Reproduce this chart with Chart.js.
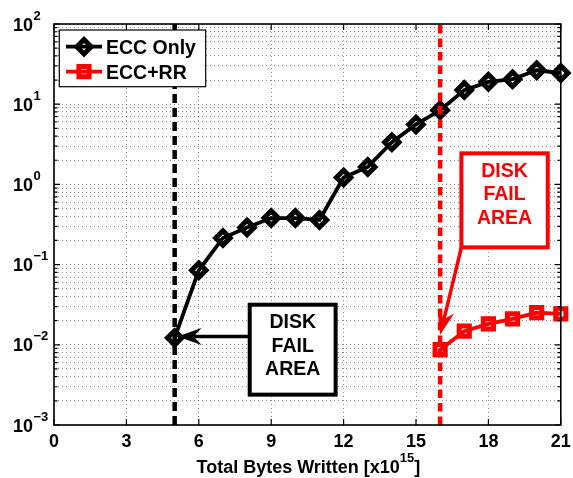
<!DOCTYPE html>
<html><head><meta charset="utf-8">
<script src="https://cdn.jsdelivr.net/npm/chart.js@4/dist/chart.umd.min.js"></script>
<style>html,body{margin:0;padding:0;background:#fff;overflow:hidden}#wrap{width:573px;height:478px;position:relative}</style>
</head><body><div id="wrap"><canvas id="c" width="573" height="478"></canvas></div>
<script>
// ---- data ----
const bytesWritten = [5,6,7,8,9,10,11,12,13,14,15,16,17,18,19,20,21];
const eccOnly      = [0.0122,0.085,0.215,0.29,0.38,0.38,0.36,1.22,1.65,3.35,5.6,8.4,15,19,20.5,26.5,24.5];
const rrBytes      = [16,17,18,19,20,21];
const eccRR        = [0.0087,0.0148,0.0182,0.021,0.0252,0.0243];
const xTickValues  = [0,3,6,9,12,15,18,21];
const yTickExponents = [-3,-2,-1,0,1,2];
const seriesNames  = ['ECC Only','ECC+RR'];
const diskFailLines = [5,16];
const calloutText  = ['DISK','FAIL','AREA'];
const xTitleMain = 'Total Bytes Written [x10';
const xTitleExp = '15';
const xTitleEnd = ']';

const FONT = '"Liberation Sans", Arial, Helvetica, sans-serif';
const yMinorTicks = [];
yTickExponents.forEach((e,i)=>{ for(let m=1;m<=9;m++){ if(i===yTickExponents.length-1 && m>1) break; yMinorTicks.push(+(m*Math.pow(10,e)).toPrecision(6)); }});

const callouts = [
  {color:'#000', box:[8.11,11.67,0.0316,0.00239], from:[8.11,0.0127], to:[5.12,0.0127]},
  {color:'#ff0000', box:[16.88,20.46,2.44,0.164], from:[16.88,0.164], to:[16.0,0.0133]}
];

function arrow(ctx,x0,y0,x1,y1,color,lw){
  const len=24, hw=8.5, notch=16;
  const a=Math.atan2(y1-y0,x1-x0), ux=Math.cos(a), uy=Math.sin(a), px=-uy, py=ux;
  ctx.save();
  ctx.strokeStyle=color; ctx.fillStyle=color; ctx.lineWidth=lw; ctx.lineCap='butt';
  ctx.beginPath(); ctx.moveTo(x0,y0); ctx.lineTo(x1-ux*notch,y1-uy*notch); ctx.stroke();
  ctx.beginPath();
  ctx.moveTo(x1,y1);
  ctx.lineTo(x1-ux*len+px*hw, y1-uy*len+py*hw);
  ctx.lineTo(x1-ux*notch, y1-uy*notch);
  ctx.lineTo(x1-ux*len-px*hw, y1-uy*len-py*hw);
  ctx.closePath(); ctx.fill();
  ctx.restore();
}

const overlay = {
  id:'overlay',
  afterDatasetsDraw(chart){
    const {ctx, scales:{x,y}} = chart;
    callouts.forEach(c=>{
      const l=x.getPixelForValue(c.box[0]), r=x.getPixelForValue(c.box[1]);
      const t=y.getPixelForValue(c.box[2]), b=y.getPixelForValue(c.box[3]);
      arrow(ctx, x.getPixelForValue(c.from[0]), y.getPixelForValue(c.from[1]),
                 x.getPixelForValue(c.to[0]), y.getPixelForValue(c.to[1]), c.color, 3.5);
      ctx.save();
      ctx.fillStyle='#fff'; ctx.fillRect(l,t,r-l,b-t);
      ctx.strokeStyle=c.color; ctx.lineWidth=4; ctx.strokeRect(l,t,r-l,b-t);
      ctx.fillStyle=c.color; ctx.font='bold 19.5px '+FONT; ctx.textAlign='center'; ctx.textBaseline='alphabetic';
      calloutText.forEach((s,i)=>ctx.fillText(s,(l+r)/2,t+23.5+i*23.4));
      ctx.restore();
    });
  },
  afterDraw(chart){
    const {ctx, chartArea:ca, scales:{x,y}} = chart;
    ctx.save();
    // ticks inward
    ctx.strokeStyle='#000'; ctx.lineWidth=1.2;
    xTickValues.forEach(v=>{
      const p=x.getPixelForValue(v);
      ctx.beginPath(); ctx.moveTo(p,ca.bottom); ctx.lineTo(p,ca.bottom-6);
      ctx.moveTo(p,ca.top); ctx.lineTo(p,ca.top+6); ctx.stroke();
    });
    y.ticks.forEach(t=>{
      const p=y.getPixelForValue(t.value);
      const lg=Math.log10(t.value), major=Math.abs(lg-Math.round(lg))<1e-6;
      const L=major?6:3.5;
      ctx.beginPath(); ctx.moveTo(ca.left,p); ctx.lineTo(ca.left+L,p);
      ctx.moveTo(ca.right,p); ctx.lineTo(ca.right-L,p); ctx.stroke();
    });
    // frame
    ctx.lineWidth=1.6; ctx.strokeRect(ca.left,ca.top,ca.right-ca.left,ca.bottom-ca.top);
    // y labels
    ctx.fillStyle='#000'; ctx.textBaseline='alphabetic';
    yTickExponents.forEach(e=>{
      const p=y.getPixelForValue(Math.pow(10,e));
      ctx.font='bold 18px '+FONT; ctx.textAlign='right';
      ctx.fillText('10', 33, p+6.5);
      ctx.font='bold 13px '+FONT; ctx.textAlign='left';
      ctx.fillText(e<0?'\u2212'+Math.abs(e):String(e), 33.5, p-4.5);
    });
    // x labels
    ctx.font='bold 18px '+FONT; ctx.textAlign='center';
    xTickValues.forEach(v=>ctx.fillText(String(v), x.getPixelForValue(v), ca.bottom+21.5));
    // x title
    ctx.textAlign='left';
    ctx.font='bold 18px '+FONT; const w1=ctx.measureText(xTitleMain).width, w3=ctx.measureText(xTitleEnd).width;
    ctx.font='bold 13px '+FONT; const w2=ctx.measureText(xTitleExp).width;
    let sx=(ca.left+ca.right)/2-(w1+w2+w3)/2+1; const by=ca.bottom+48;
    ctx.font='bold 18px '+FONT; ctx.fillText(xTitleMain,sx,by);
    ctx.font='bold 13px '+FONT; ctx.fillText(xTitleExp,sx+w1,by-11.5);
    ctx.font='bold 18px '+FONT; ctx.fillText(xTitleEnd,sx+w1+w2,by);
    // legend
    const lx=ca.left+5.3, ly=ca.top+6, lw=146.4, lh=56.7;
    ctx.fillStyle='#fff'; ctx.fillRect(lx,ly,lw,lh);
    ctx.strokeStyle='#000'; ctx.lineWidth=1.2; ctx.strokeRect(lx,ly,lw,lh);
    [0,1].forEach(i=>{
      const ds=chart.data.datasets[i]; const ry=ly+16.7+i*25;
      ctx.strokeStyle=ds.borderColor; ctx.lineWidth=ds.borderWidth;
      ctx.beginPath(); ctx.moveTo(ca.left+12,ry); ctx.lineTo(ca.left+48,ry); ctx.stroke();
      ctx.save(); ctx.fillStyle=ds.pointBackgroundColor; ctx.strokeStyle=ds.borderColor; ctx.lineWidth=ds.pointBorderWidth;
      Chart.helpers.drawPoint(ctx,{pointStyle:ds.pointStyle,radius:ds.pointRadius,rotation:0,borderWidth:ds.pointBorderWidth},ca.left+30,ry);
      ctx.restore();
      ctx.fillStyle='#000'; ctx.font='bold 19.5px '+FONT; ctx.textAlign='left';
      ctx.fillText(seriesNames[i], ca.left+52, ry+7);
    });
    ctx.restore();
  }
};

new Chart(document.getElementById('c'), {
  type:'line',
  data:{datasets:[
    {label:seriesNames[0], data:bytesWritten.map((v,i)=>({x:v,y:eccOnly[i]})), borderColor:'#000', borderWidth:3.8,
     pointStyle:'rectRot', pointRadius:7.2, pointBorderWidth:5, pointBackgroundColor:'rgba(255,255,255,0)', pointBorderColor:'#000', order:3, clip:false},
    {label:seriesNames[1], data:rrBytes.map((v,i)=>({x:v,y:eccRR[i]})), borderColor:'#ff0000', borderWidth:3.8,
     pointStyle:'rect', pointRadius:7.2, pointBorderWidth:5, pointBackgroundColor:'rgba(255,255,255,0)', pointBorderColor:'#ff0000', order:2, clip:false},
    {label:'fail0', data:[{x:diskFailLines[0],y:1e-3},{x:diskFailLines[0],y:1e2}], borderColor:'#000', borderWidth:4.5, borderDash:[9,5], pointRadius:0, order:4},
    {label:'fail1', data:[{x:diskFailLines[1],y:1e-3},{x:diskFailLines[1],y:1e2}], borderColor:'#ff0000', borderWidth:4.5, borderDash:[8.5,5], pointRadius:0, order:1}
  ]},
  options:{
    responsive:false, animation:false, devicePixelRatio:1,
    layout:{padding:{top:24,right:10,left:0,bottom:0}},
    plugins:{legend:{display:false}, tooltip:{enabled:false}},
    elements:{line:{tension:0}},
    scales:{
      x:{type:'linear', min:0, max:21,
         afterBuildTicks:s=>{s.ticks=xTickValues.map(v=>({value:v}));},
         afterFit:s=>{s.height=53;},
         ticks:{display:false},
         grid:{color:'rgba(0,0,0,0.45)', lineWidth:1, drawTicks:false},
         border:{display:false, dash:[1,3]}},
      y:{type:'logarithmic', min:1e-3, max:1e2,
         afterBuildTicks:s=>{s.ticks=yMinorTicks.map(v=>({value:v}));},
         afterFit:s=>{s.width=54;},
         ticks:{display:false},
         grid:{color:'rgba(0,0,0,0.45)', lineWidth:1, drawTicks:false},
         border:{display:false, dash:[1,3]}}
    }
  },
  plugins:[overlay]
});
</script></body></html>
